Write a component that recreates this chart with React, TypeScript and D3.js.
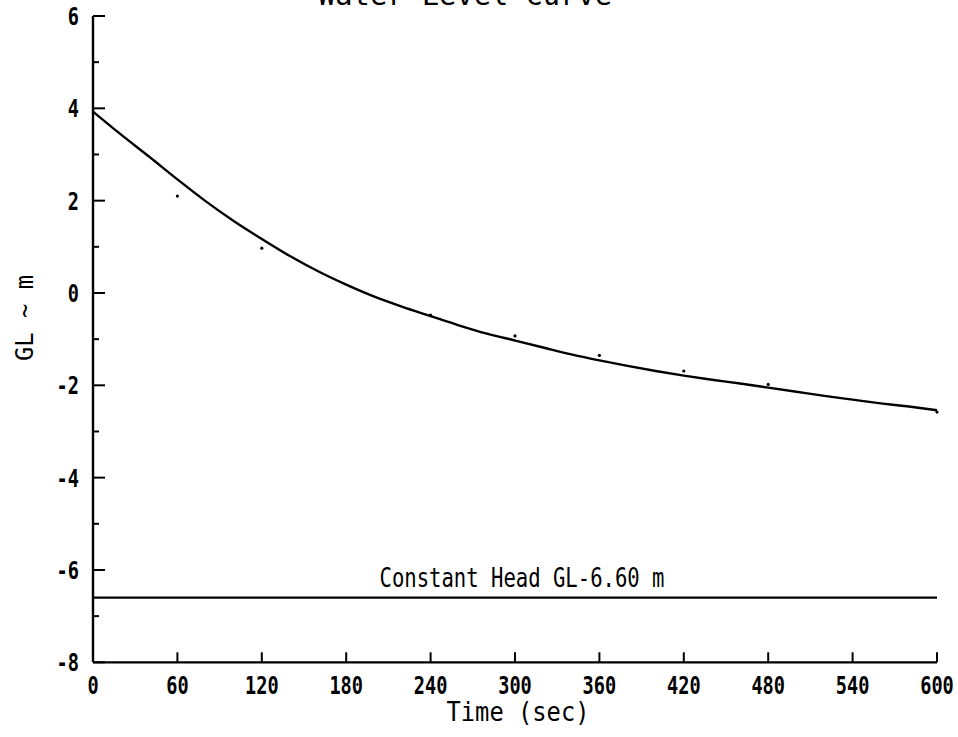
import React from "react";
import * as d3 from "d3";

const curveTimes = [0, 20, 40, 60, 80, 100, 120, 140, 160, 180, 200, 220, 240, 260, 280, 300, 320, 340, 360, 380, 400, 420, 440, 460, 480, 500, 520, 540, 560, 580, 600];
const curveLevels = [3.93, 3.43, 2.95, 2.46, 1.99, 1.56, 1.17, 0.8, 0.47, 0.18, -0.08, -0.3, -0.5, -0.7, -0.88, -1.03, -1.18, -1.33, -1.46, -1.58, -1.69, -1.79, -1.88, -1.96, -2.05, -2.14, -2.23, -2.31, -2.39, -2.46, -2.54];
const pointTimes = [60, 120, 240, 300, 360, 420, 480, 600];
const pointLevels = [2.1, 0.97, -0.48, -0.93, -1.35, -1.69, -1.98, -2.58];
const constantHead = -6.6;
const xTicks = [0, 60, 120, 180, 240, 300, 360, 420, 480, 540, 600];
const yMajorTicks = [-8, -6, -4, -2, 0, 2, 4, 6];
const yMinorTicks = [-7, -5, -3, -1, 1, 3, 5];

const W = 958;
const H = 737;
const FONT = "'DejaVu Sans Mono', 'Liberation Mono', monospace";

export default function App() {
  const x = d3.scaleLinear().domain([0, 600]).range([93, 937]);
  const y = d3.scaleLinear().domain([-8, 6]).range([662.3, 16]);
  const line = d3
    .line<number>()
    .x((_, i) => x(curveTimes[i]))
    .y((d) => y(d))
    .curve(d3.curveMonotoneX);
  const charW = 11.2;
  return (
    <svg
      width={W}
      height={H}
      style={{ position: "absolute", left: 0, top: 0, background: "#fff" }}
    >
      <text
        x={465}
        y={5}
        textAnchor="middle"
        fontFamily={FONT}
        fontSize={28.5}
        fill="#000"
        textLength={294}
        lengthAdjust="spacingAndGlyphs"
      >
        Water Level Curve
      </text>

      <line x1={x(0)} x2={x(0)} y1={y(6)} y2={y(-8)} stroke="#000" strokeWidth={2.4} />
      <line x1={x(0)} x2={x(600)} y1={y(-8)} y2={y(-8)} stroke="#000" strokeWidth={2.2} />

      {yMajorTicks.map((t) => (
        <g key={"ym" + t}>
          <line x1={x(0)} x2={x(0) + 12} y1={y(t)} y2={y(t)} stroke="#000" strokeWidth={2} />
          <text
            x={79}
            y={y(t) + 9}
            textAnchor="end"
            fontFamily={FONT}
            fontWeight="bold"
            fontSize={25}
            fill="#000"
            textLength={String(t).length * charW}
            lengthAdjust="spacingAndGlyphs"
          >
            {String(t)}
          </text>
        </g>
      ))}
      {yMinorTicks.map((t) => (
        <line key={"yn" + t} x1={x(0)} x2={x(0) + 6} y1={y(t)} y2={y(t)} stroke="#000" strokeWidth={2} />
      ))}

      {xTicks.map((t) => (
        <g key={"x" + t}>
          {t > 0 && (
            <line x1={x(t)} x2={x(t)} y1={y(-8)} y2={y(-8) - 10} stroke="#000" strokeWidth={2} />
          )}
          <text
            x={x(t)}
            y={694}
            textAnchor="middle"
            fontFamily={FONT}
            fontWeight="bold"
            fontSize={24}
            fill="#000"
            textLength={String(t).length * charW}
            lengthAdjust="spacingAndGlyphs"
          >
            {String(t)}
          </text>
        </g>
      ))}

      <text
        x={518}
        y={721}
        textAnchor="middle"
        fontFamily={FONT}
        fontSize={26}
        fill="#000"
        textLength={143}
        lengthAdjust="spacingAndGlyphs"
      >
        Time (sec)
      </text>
      <text
        transform={`translate(33, 318) rotate(-90)`}
        textAnchor="middle"
        fontFamily={FONT}
        fontSize={25}
        fill="#000"
        textLength={86}
        lengthAdjust="spacingAndGlyphs"
      >
        GL ~ m
      </text>

      <line x1={x(0)} x2={x(600)} y1={y(constantHead)} y2={y(constantHead)} stroke="#000" strokeWidth={2.2} />
      <text
        x={522}
        y={587}
        textAnchor="middle"
        fontFamily={FONT}
        fontSize={26}
        fill="#000"
        textLength={285}
        lengthAdjust="spacingAndGlyphs"
      >
        Constant Head GL-6.60 m
      </text>

      <path d={line(curveLevels) || ""} fill="none" stroke="#000" strokeWidth={2.4} strokeLinejoin="round" />
      {pointLevels.map((v, i) => (
        <circle key={"p" + i} cx={x(pointTimes[i])} cy={y(v)} r={1.6} fill="#000" />
      ))}
    </svg>
  );
}
